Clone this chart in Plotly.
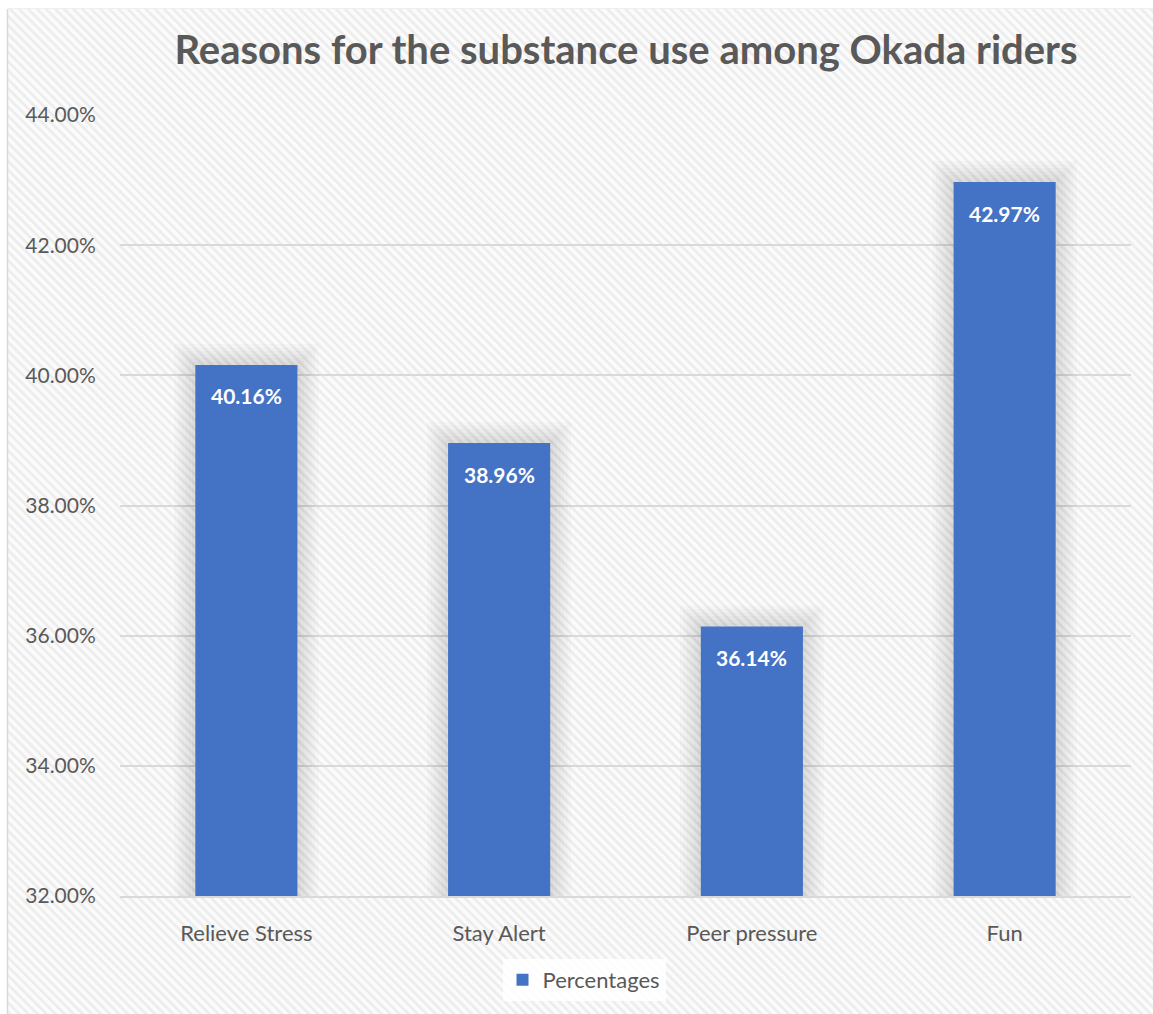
import base64
import plotly.graph_objects as go

# Survey results
categories = ["Relieve Stress", "Stay Alert", "Peer pressure", "Fun"]
percentages = [40.16, 38.96, 36.14, 42.97]
tick_values = [32, 34, 36, 38, 40, 42, 44]
tick_labels = ["32.00%", "34.00%", "36.00%", "38.00%", "40.00%", "42.00%", "44.00%"]
series_name = "Percentages"
title_text = "Reasons for the substance use among Okada riders"

W, H = 1153, 1014
M_L, M_R, M_T, M_B = 120, 22, 115, 118
plot_w = W - M_L - M_R
plot_h = H - M_T - M_B
y_min, y_max = 32, 44
units_per_px = (y_max - y_min) / plot_h

BAR_COLOR = "#4472C4"
TEXT_GREY = "#595959"
GRID_GREY = "#D9D9D9"
FONT = "Lato"

# light downward-diagonal hatch used as the chart-area fill
bg_x0, bg_y0 = 8, 9
bg_w, bg_h = W - bg_x0, H - bg_y0
svg = f"""<svg xmlns='http://www.w3.org/2000/svg' width='{bg_w}' height='{bg_h}' viewBox='0 0 {bg_w} {bg_h}' preserveAspectRatio='none'>
<defs><pattern id='h' patternUnits='userSpaceOnUse' width='6.4' height='10' patternTransform='rotate(-45)'>
<rect width='6.4' height='10' fill='#FBFBFB'/><rect width='2.8' height='10' fill='#EDEDED'/></pattern></defs>
<rect width='{bg_w}' height='{bg_h}' fill='url(#h)'/></svg>"""
svg_uri = "data:image/svg+xml;base64," + base64.b64encode(svg.encode()).decode()


def px_to_paper_x(px):
    return (px - M_L) / plot_w


def px_to_paper_y(py):
    return (H - M_B - py) / plot_h


fig = go.Figure()

# soft glow behind the bars
bar_width = 0.404
for i in range(6, 0, -1):
    grow = 3.5 * i
    fig.add_trace(go.Bar(
        x=categories,
        y=[v + grow * units_per_px for v in percentages],
        width=bar_width + 2 * grow / (plot_w / len(categories)),
        marker=dict(color="rgba(0,0,0,0.019)", line=dict(width=0)),
        showlegend=False,
        hoverinfo="skip",
    ))

fig.add_trace(go.Bar(
    x=categories,
    y=percentages,
    width=bar_width,
    name=series_name,
    marker=dict(color=BAR_COLOR, line=dict(width=0)),
))

# value labels just inside the top of each bar
for cat, val in zip(categories, percentages):
    fig.add_annotation(
        x=cat, y=val, text=f"<b>{val:.2f}%</b>", showarrow=False,
        yshift=-31, font=dict(family=FONT, size=21, color="white"),
    )

fig.update_layout(
    width=W, height=H,
    margin=dict(l=M_L, r=M_R, t=M_T, b=M_B),
    paper_bgcolor="white",
    plot_bgcolor="rgba(0,0,0,0)",
    barmode="overlay",
    title=dict(
        text=f"<b>{title_text}</b>",
        x=px_to_paper_x(626), xref="paper", xanchor="center",
        y=1 - 50 / H, yref="container", yanchor="middle",
        font=dict(family=FONT, size=40, color=TEXT_GREY),
    ),
    font=dict(family=FONT, color=TEXT_GREY),
    showlegend=True,
    legend=dict(
        orientation="h",
        x=px_to_paper_x(584), xanchor="center",
        y=px_to_paper_y(980), yanchor="middle",
        bgcolor="rgba(255,255,255,0.85)",
        font=dict(family=FONT, size=22, color=TEXT_GREY),
        itemwidth=30,
    ),
    images=[dict(
        source=svg_uri, xref="paper", yref="paper",
        x=px_to_paper_x(bg_x0), y=px_to_paper_y(bg_y0),
        sizex=bg_w / plot_w, sizey=bg_h / plot_h,
        xanchor="left", yanchor="top", sizing="stretch", layer="below",
    )],
    shapes=[dict(
        type="line", xref="paper", yref="paper",
        x0=px_to_paper_x(bg_x0 - 0.5), x1=px_to_paper_x(bg_x0 - 0.5),
        y0=px_to_paper_y(bg_y0), y1=px_to_paper_y(H),
        line=dict(color=GRID_GREY, width=1.5),
    ), dict(
        type="line", xref="paper", yref="paper",
        x0=px_to_paper_x(bg_x0), x1=px_to_paper_x(W),
        y0=px_to_paper_y(bg_y0 - 0.5), y1=px_to_paper_y(bg_y0 - 0.5),
        line=dict(color="#EFEFEF", width=1),
    )],
)

fig.update_yaxes(
    range=[y_min, y_max],
    tickvals=tick_values, ticktext=tick_labels,
    showgrid=True, gridcolor=GRID_GREY, gridwidth=1.5,
    zeroline=False, showline=False,
    ticks="outside", ticklen=19, tickcolor="rgba(0,0,0,0)",
    tickfont=dict(family=FONT, size=21, color=TEXT_GREY),
)
fig.update_xaxes(
    showgrid=False, zeroline=False,
    showline=True, linecolor=GRID_GREY, linewidth=1.5,
    ticks="outside", ticklen=17, tickcolor="rgba(0,0,0,0)",
    tickfont=dict(family=FONT, size=22, color=TEXT_GREY),
)

fig.write_html("out.html")
